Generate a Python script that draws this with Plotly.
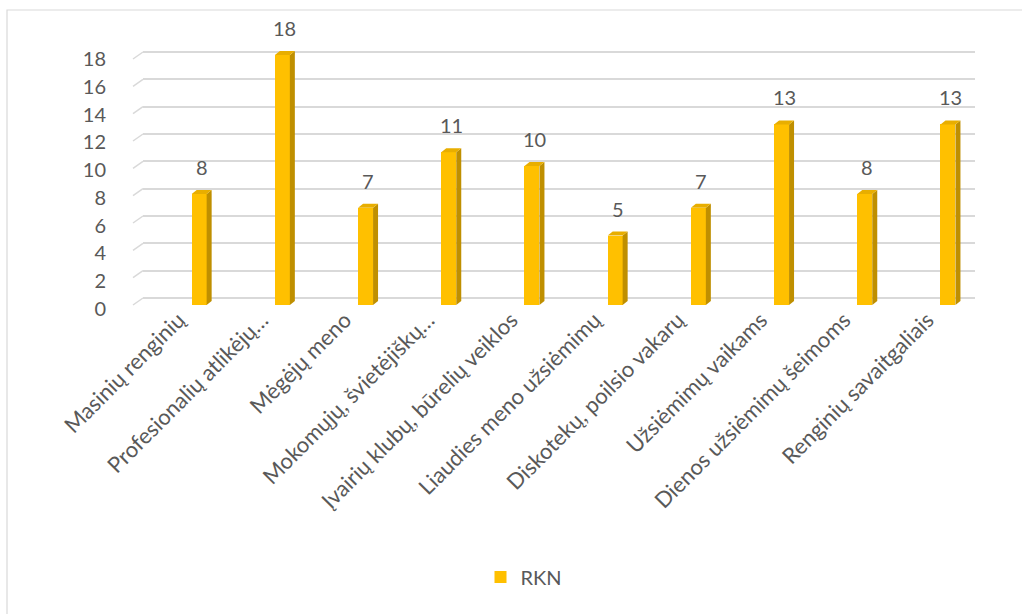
import plotly.graph_objects as go

# ---- data ----
categories = [
    "Masinių renginių",
    "Profesionalių atlikėjų…",
    "Mėgėjų meno",
    "Mokomųjų, švietėjiškų…",
    "Įvairių klubų, būrelių veiklos",
    "Liaudies meno užsiėmimų",
    "Diskotekų, poilsio vakarų",
    "Užsiėmimų vaikams",
    "Dienos užsiėmimų šeimoms",
    "Renginių savaitgaliais",
]
values = [8, 18, 7, 11, 10, 5, 7, 13, 8, 13]
series_name = "RKN"
y_ticks = [0, 2, 4, 6, 8, 10, 12, 14, 16, 18]

# ---- style / geometry ----
W, H = 1022, 614
ML, MR, MT, MB = 143, 47, 40, 304
plot_w = W - ML - MR
plot_h = H - MT - MB
FRONT = "#FFC000"
SIDE = "#BF8F00"
TOP = "#E8AE00"
GRID = "#D9D9D9"
TXT = "#595959"
FONT = "Lato, 'Open Sans', sans-serif"
FS = 20
FS_X = 22

bar_offset = 0.085
bar_width = 0.18
px_per_x = plot_w / 10.0
back_range = [-0.878, 18.878]
front_range = [-0.36, 19.08]
px_per_y_front = plot_h / (front_range[1] - front_range[0])
depth_dx = 5 / px_per_x
depth_dy = 4 / px_per_y_front

xs = list(range(len(categories)))

fig = go.Figure()
fig.add_trace(go.Bar(
    x=xs, y=values, name=series_name,
    marker=dict(color=FRONT, line=dict(width=0)),
    width=bar_width, offset=bar_offset,
    yaxis="y2", hoverinfo="skip",
))

shapes = []
annotations = []
for i, v in zip(xs, values):
    x0 = i + bar_offset
    x1 = x0 + bar_width
    shapes.append(dict(
        type="path", xref="x", yref="y2", layer="above",
        path=f"M{x1},0 L{x1+depth_dx},{depth_dy} L{x1+depth_dx},{v+depth_dy} L{x1},{v} Z",
        fillcolor=SIDE, line=dict(width=0),
    ))
    shapes.append(dict(
        type="path", xref="x", yref="y2", layer="above",
        path=f"M{x0},{v} L{x0+depth_dx},{v+depth_dy} L{x1+depth_dx},{v+depth_dy} L{x1},{v} Z",
        fillcolor=TOP, line=dict(width=0),
    ))
    annotations.append(dict(
        x=x0 + bar_width / 2 + depth_dx / 2, y=v, xref="x", yref="y2",
        text=str(v), showarrow=False, yanchor="bottom", yshift=13,
        font=dict(family=FONT, size=FS, color=TXT),
    ))

for t in y_ticks:
    shapes.append(dict(
        type="line", xref="paper", yref="y",
        x0=-10 / plot_w, x1=0,
        ysizemode="pixel", yanchor=t, y0=-7, y1=0,
        line=dict(color=GRID, width=1.5),
    ))

shapes.append(dict(
    type="rect", xref="paper", yref="paper",
    x0=(7 - ML) / plot_w, x1=(W + 10 - ML) / plot_w,
    y0=-(H + 10 - MT - plot_h) / plot_h, y1=(plot_h + MT - 10) / plot_h,
    line=dict(color=GRID, width=1.2), fillcolor="rgba(0,0,0,0)",
))

fig.update_layout(
    width=W, height=H,
    margin=dict(l=ML, r=MR, t=MT, b=MB, autoexpand=False),
    paper_bgcolor="white", plot_bgcolor="white",
    font=dict(family=FONT, size=FS, color=TXT),
    showlegend=True,
    hovermode=False,
    legend=dict(
        orientation="h", x=(524 - ML) / plot_w, xanchor="center",
        y=-(577 - MT - plot_h) / plot_h, yanchor="middle",
        font=dict(family=FONT, size=FS, color=TXT),
    ),
    xaxis=dict(
        range=[-0.5, 9.5], tickmode="array", tickvals=xs, ticktext=categories,
        tickangle=-45, showgrid=False, zeroline=False, showline=False,
        ticks="", ticklabelstandoff=-8, ticklabelshift=-6,
        tickfont=dict(family=FONT, size=FS_X, color=TXT),
    ),
    yaxis=dict(
        range=back_range, tickmode="array", tickvals=y_ticks,
        showticklabels=False, showgrid=True, gridcolor=GRID, gridwidth=1.5,
        zeroline=False, showline=False, ticks="",
    ),
    yaxis2=dict(
        range=front_range, overlaying="y", side="left",
        tickmode="array", tickvals=y_ticks, showgrid=False, zeroline=False,
        showline=False, ticks="outside", ticklen=32, tickcolor="rgba(0,0,0,0)",
        ticklabelshift=4,
        tickfont=dict(family=FONT, size=FS, color=TXT),
    ),
    shapes=shapes,
    annotations=annotations,
    bargap=0,
)

fig.write_html("out.html", config={"displayModeBar": False},
               post_script="document.body.style.margin='0';")
